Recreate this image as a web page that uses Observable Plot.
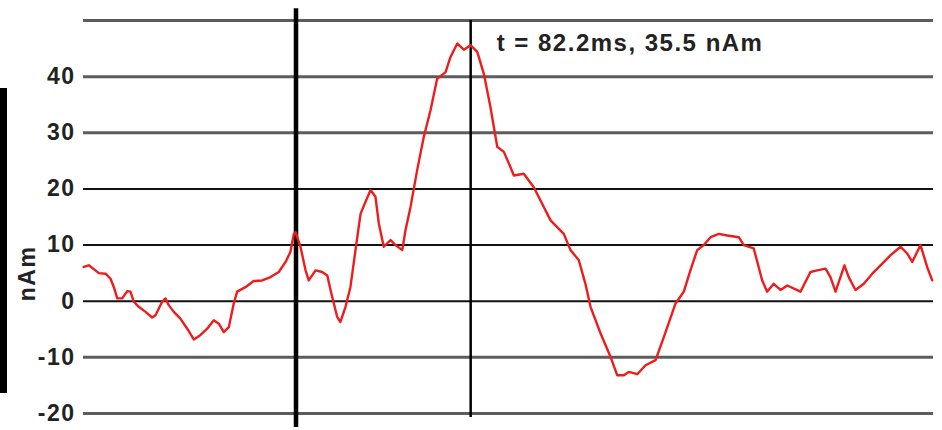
<!DOCTYPE html>
<html>
<head>
<meta charset="utf-8">
<script src="https://cdn.jsdelivr.net/npm/d3@7"></script>
<script src="https://cdn.jsdelivr.net/npm/@observablehq/plot@0.6"></script>
<style>
  html, body { margin: 0; padding: 0; background: #fff; }
  #wrap { position: relative; width: 942px; height: 430px; overflow: hidden; }
  #bar { position: absolute; left: 0; top: 88px; width: 7px; height: 305px; background: #000; }
  svg text { letter-spacing: 1.5px; }
</style>
</head>
<body>
<div id="wrap"><div id="bar"></div></div>
<script>
// time (ms) of each traced sample
const timeMs = [
  -99.9, -97.5, -94.4, -92.8, -89.6, -87.3, -85.7, -84.1, -81.8, -79.4, -77.9, -76.3, -74.0, -70.8,
  -67.7, -66.1, -63.0, -61.4, -59.9, -57.5, -54.4, -51.2, -48.1, -44.9, -41.8, -38.7, -36.3, -34.0,
  -31.6, -29.3, -27.7, -23.8, -19.9, -15.9, -12.0, -8.1, -4.9, -2.6, -1.0,
  -0.2, 2.1, 4.5, 6.0, 9.2, 12.3, 14.7, 17.0, 19.4, 20.9, 23.3, 25.6, 28.0, 30.4, 32.7, 35.1, 37.4,
  39.0, 41.3, 44.5, 46.8, 50.0, 51.5, 53.9, 57.0, 60.1, 63.3, 66.4, 70.4, 72.7, 75.9, 79.0, 82.1,
  85.3, 88.4, 91.5, 94.7, 97.8, 100.9, 102.5, 107.2, 111.9, 119.8, 126.0, 129.2, 133.1, 136.2,
  138.6, 143.3, 148.0, 151.2, 154.3, 156.6, 160.6, 164.5, 169.2, 173.1, 178.6, 182.5, 185.6,
  188.8, 191.9, 195.1, 199.0, 202.9, 208.4, 210.7, 215.4, 219.4, 221.7, 224.8, 228.0, 231.2,
  237.4, 242.1, 245.3, 249.2, 251.5, 253.9, 256.2, 258.1, 260.1, 263.3, 267.2, 271.2, 275.9,
  279.8, 284.5, 287.6, 290.0, 293.9, 297.0, 299.4
];
// dipole moment (nAm)
const momentNAm = [
  6.1, 6.4, 5.5, 5.0, 4.9, 4.0, 2.5, 0.5, 0.5, 1.8, 1.7, -0.1, -1.0, -1.9,
  -2.9, -2.5, -0.1, 0.5, -0.7, -1.9, -3.1, -4.9, -6.8, -6.0, -4.9, -3.4, -4.0, -5.5,
  -4.6, -0.4, 1.7, 2.5, 3.6, 3.7, 4.3, 5.2, 7.0, 8.8, 12.0,
  12.3, 9.7, 5.5, 3.7, 5.5, 5.2, 4.6, 0.8, -2.8, -3.7, -1.0, 2.5, 9.1, 15.6, 17.7, 19.8, 18.6,
  13.8, 9.7, 10.9, 10.0, 9.1, 12.6, 16.8, 23.3, 29.2, 34.0, 39.6, 40.8, 43.5, 45.9, 44.8, 45.6,
  44.4, 40.5, 34.6, 27.5, 26.6, 23.9, 22.4, 22.7, 20.3, 14.4, 12.0, 9.1, 7.3, 3.1,
  -1.0, -5.7, -9.9, -13.2, -13.2, -12.6, -13.0, -11.4, -10.5, -6.4, -0.4, 1.7, 5.5,
  9.1, 10.0, 11.4, 12.0, 11.7, 11.4, 10.0, 9.4, 3.7, 1.7, 3.1, 2.0, 2.8,
  1.7, 5.2, 5.5, 5.8, 4.3, 1.7, 4.3, 6.4, 4.3, 2.0, 3.1, 4.9, 6.7,
  8.2, 9.7, 8.5, 7.0, 10.0, 6.1, 3.7
];
const yTickValues = [-20, -10, 0, 10, 20, 30, 40];
const darkGrid = [0, 10, 20];
const greyGrid = [-20, -10, 30, 40, 50];
const onsetMs = 0;
const peakMs = 82.2;
const peakLabel = "t = 82.2ms, 35.5 nAm";
const unitLabel = "nAm";

const series = timeMs.map((t, i) => ({t, v: momentNAm[i]}));

const font = "'Liberation Sans', Arial, Helvetica, sans-serif";

const chart = Plot.plot({
  width: 942,
  height: 430,
  marginLeft: 83,
  marginRight: 9,
  marginTop: 20,
  marginBottom: 17,
  style: {fontFamily: font, fontWeight: "bold", color: "#222", background: "#fff", overflow: "visible"},
  x: {domain: [-100, 300], axis: null},
  y: {domain: [-20, 50], axis: null},
  marks: [
    Plot.ruleY(greyGrid, {stroke: "#5c5c5c", strokeWidth: 3}),
    Plot.ruleY(darkGrid, {stroke: "#111", strokeWidth: 2}),
    Plot.axisY({ticks: yTickValues, tickFormat: d => String(d), label: null, tickSize: 0, tickPadding: 8,
      fontSize: 23, fontWeight: "bold", fill: "#222"}),
    Plot.ruleX([onsetMs], {y1: -22.5, y2: 52.1, stroke: "#000", strokeWidth: 4.5}),
    Plot.ruleX([peakMs], {y1: -20.7, y2: 50, stroke: "#000", strokeWidth: 2.5}),
    Plot.line(series, {x: "t", y: "v", stroke: "#ee1c1c", strokeWidth: 2.4, curve: "linear"}),
    Plot.text([peakLabel], {x: peakMs, y: 50, text: d => d, dx: 26, dy: 23, textAnchor: "start",
      fontSize: 24, fontWeight: "bold", fill: "#222"}),
    Plot.text([unitLabel], {frameAnchor: "left", y: [0], text: d => d, dx: -56, rotate: -90,
      fontSize: 23, fontWeight: "bold", fill: "#222"})
  ]
});
document.getElementById("wrap").prepend(chart);
</script>
</body>
</html>
